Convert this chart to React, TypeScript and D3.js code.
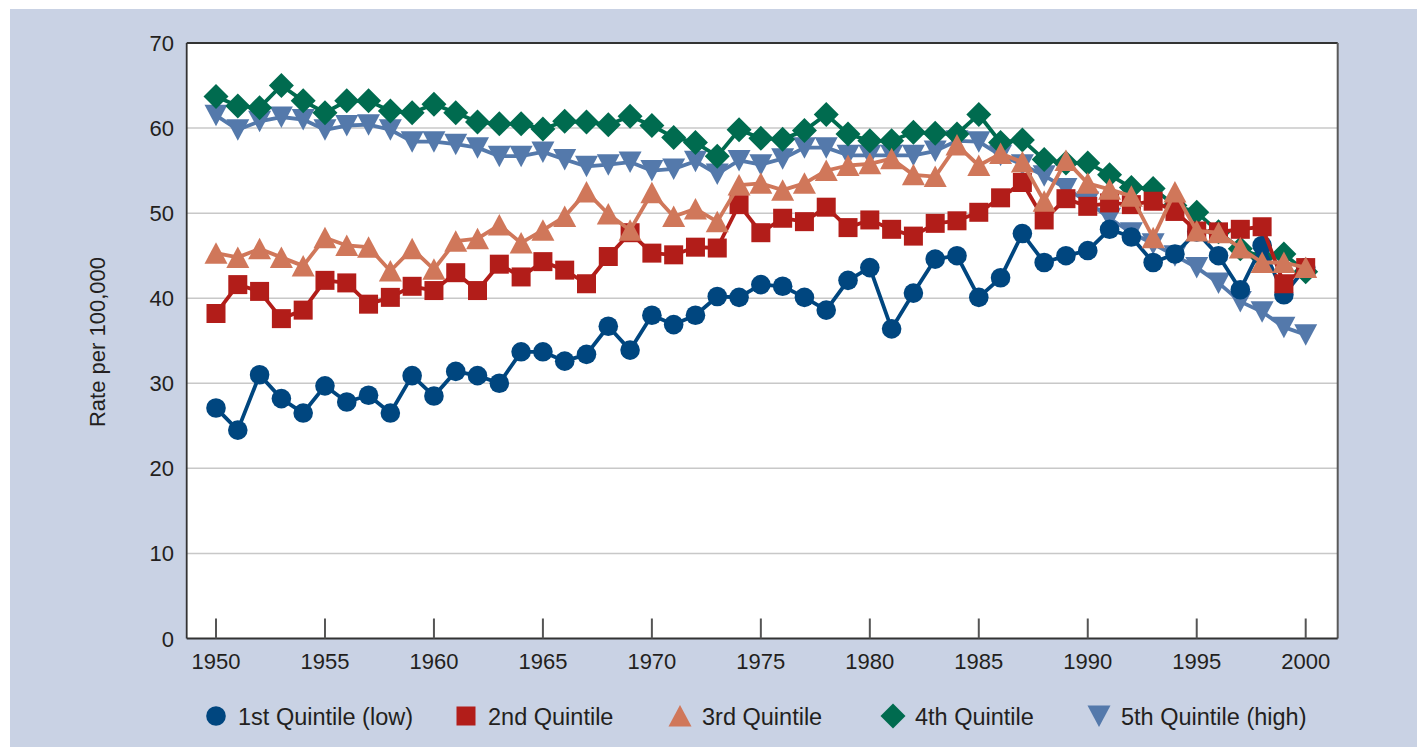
import * as d3 from 'd3';
import React, { useRef, useEffect } from 'react';

// years on the x axis
const years = d3.range(1950, 2001);

// rate per 100,000 for each quintile
const q1 = [27.1, 24.5, 31.0, 28.2, 26.5, 29.7, 27.8, 28.6, 26.5, 30.9,
    28.5, 31.4, 30.9, 30.0, 33.7, 33.7, 32.6, 33.4, 36.7, 33.9,
    38.0, 36.9, 38.0, 40.2, 40.1, 41.6, 41.4, 40.1, 38.6, 42.1,
    43.6, 36.4, 40.6, 44.6, 45.0, 40.1, 42.4, 47.6, 44.2, 45.0,
    45.6, 48.1, 47.2, 44.2, 45.2, 47.8, 45.0, 41.0, 46.2, 40.4, 43.6];

const q2 = [38.2, 41.6, 40.8, 37.6, 38.6, 42.1, 41.8, 39.3, 40.1, 41.4,
    40.9, 43.0, 40.9, 44.0, 42.5, 44.3, 43.3, 41.7, 44.9, 47.7,
    45.3, 45.1, 46.0, 45.9, 51.0, 47.7, 49.4, 49.0, 50.7, 48.3,
    49.2, 48.1, 47.3, 48.8, 49.1, 50.1, 51.8, 53.6, 49.2, 51.7,
    50.8, 51.2, 51.0, 51.4, 50.2, 47.9, 47.8, 48.1, 48.4, 41.7, 43.6];

const q3 = [45.3, 44.8, 45.8, 44.8, 43.8, 47.1, 46.2, 46.0, 43.2, 45.8,
    43.4, 46.7, 47.0, 48.6, 46.5, 48.0, 49.6, 52.5, 49.9, 48.0,
    52.4, 49.6, 50.5, 49.0, 53.3, 53.5, 52.7, 53.5, 55.0, 55.6,
    55.8, 56.4, 54.5, 54.3, 58.0, 55.6, 57.0, 56.0, 51.4, 56.2,
    53.5, 52.8, 52.0, 47.1, 52.5, 47.9, 47.7, 45.9, 44.2, 44.2, 43.6];

const q4 = [63.7, 62.6, 62.4, 65.0, 63.2, 61.8, 63.2, 63.2, 62.0, 61.8,
    62.8, 61.8, 60.7, 60.5, 60.5, 59.9, 60.8, 60.7, 60.4, 61.4,
    60.3, 58.9, 58.3, 56.7, 59.8, 58.8, 58.7, 59.7, 61.6, 59.3,
    58.5, 58.5, 59.5, 59.4, 59.3, 61.6, 58.3, 58.6, 56.3, 55.9,
    55.9, 54.5, 53.0, 52.9, 50.9, 50.1, 47.8, 45.8, 44.8, 45.2, 43.1];

const q5 = [61.5, 59.8, 60.8, 61.3, 61.0, 59.8, 60.3, 60.4, 59.8, 58.4,
    58.4, 58.1, 57.7, 56.7, 56.7, 57.2, 56.3, 55.5, 55.7, 56.0,
    55.0, 55.2, 56.1, 54.6, 56.2, 55.7, 56.4, 57.7, 57.7, 56.8,
    56.8, 56.8, 56.8, 57.3, 58.5, 58.4, 56.8, 55.7, 54.4, 52.9,
    51.3, 49.4, 47.7, 46.4, 45.0, 43.6, 41.8, 39.6, 38.4, 36.6, 35.7];

const seriesNames = ['1st Quintile (low)', '2nd Quintile', '3rd Quintile', '4th Quintile', '5th Quintile (high)'];
const xTicks = [1950, 1955, 1960, 1965, 1970, 1975, 1980, 1985, 1990, 1995, 2000];
const yTicks = [0, 10, 20, 30, 40, 50, 60, 70];

// marker shapes drawn around (0,0)
const markerPath = (shape) => {
    switch (shape) {
        case 'circle': return 'M9.8,0A9.8,9.8 0 1,1 -9.8,0A9.8,9.8 0 1,1 9.8,0Z';
        case 'square': return 'M-9.5,-9.5H9.5V9.5H-9.5Z';
        case 'up': return 'M0,-11L11.5,10.5L-11.5,10.5Z';
        case 'diamond': return 'M0,-12.5L12.5,0L0,12.5L-12.5,0Z';
        case 'down': return 'M-11.5,-10.5L11.5,-10.5L0,11Z';
        default: return '';
    }
};

const series = [
    { name: seriesNames[4], values: q5, color: '#5479ab', shape: 'down' },
    { name: seriesNames[3], values: q4, color: '#006b4f', shape: 'diamond' },
    { name: seriesNames[0], values: q1, color: '#00467f', shape: 'circle' },
    { name: seriesNames[1], values: q2, color: '#b21d19', shape: 'square' },
    { name: seriesNames[2], values: q3, color: '#d0775a', shape: 'up' },
];

const legendOrder = [
    { name: seriesNames[0], color: '#00467f', shape: 'circle', x: 216 },
    { name: seriesNames[1], color: '#b21d19', shape: 'square', x: 466 },
    { name: seriesNames[2], color: '#d0775a', shape: 'up', x: 680 },
    { name: seriesNames[3], color: '#006b4f', shape: 'diamond', x: 893 },
    { name: seriesNames[4], color: '#5479ab', shape: 'down', x: 1099 },
];

const App = () => {
    const svgRef = useRef();

    useEffect(() => {
        const width = 1417;
        const height = 747;
        const left = 186.7;
        const right = 1337.7;

        const svg = d3.select(svgRef.current);
        svg.selectAll('*').remove();
        svg.attr('width', width).attr('height', height);

        const x = d3.scaleLinear().domain([1950, 2000]).range([216, 1305.7]);
        const y = d3.scaleLinear().domain([0, 70]).range([638.5, 43]);

        // light blue panel
        svg.append('rect')
            .attr('x', 10).attr('y', 9)
            .attr('width', width - 10).attr('height', height - 9)
            .attr('fill', '#c9d2e4');

        // white plot area
        svg.append('rect')
            .attr('x', left).attr('y', y(70))
            .attr('width', right - left).attr('height', y(0) - y(70))
            .attr('fill', '#ffffff');

        // gridlines
        svg.append('g')
            .selectAll('line')
            .data(yTicks.filter((d) => d > 0 && d < 70))
            .enter().append('line')
            .attr('x1', left).attr('x2', right)
            .attr('y1', (d) => y(d)).attr('y2', (d) => y(d))
            .attr('stroke', '#c8c8c8')
            .attr('stroke-width', 1.5);

        // frame: top and right
        svg.append('line')
            .attr('x1', left).attr('x2', right)
            .attr('y1', y(70)).attr('y2', y(70))
            .attr('stroke', '#333').attr('stroke-width', 1.8);
        svg.append('line')
            .attr('x1', right).attr('x2', right)
            .attr('y1', y(70)).attr('y2', y(0))
            .attr('stroke', '#5a5a5a').attr('stroke-width', 2);

        // axes
        svg.append('line')
            .attr('x1', left).attr('x2', left)
            .attr('y1', y(70)).attr('y2', y(0))
            .attr('stroke', '#333').attr('stroke-width', 1.8);
        svg.append('line')
            .attr('x1', left).attr('x2', right)
            .attr('y1', y(0)).attr('y2', y(0))
            .attr('stroke', '#333').attr('stroke-width', 1.8);

        // x ticks point up into the plot
        svg.append('g')
            .selectAll('line')
            .data(xTicks)
            .enter().append('line')
            .attr('x1', (d) => x(d)).attr('x2', (d) => x(d))
            .attr('y1', y(0) - 20).attr('y2', y(0))
            .attr('stroke', '#555').attr('stroke-width', 2);

        const font = 'Liberation Sans, Arial, Helvetica, sans-serif';

        svg.append('g')
            .selectAll('text')
            .data(xTicks)
            .enter().append('text')
            .attr('x', (d) => x(d))
            .attr('y', 669)
            .attr('text-anchor', 'middle')
            .attr('font-family', font)
            .attr('font-size', 22)
            .attr('fill', '#231f20')
            .text((d) => d);

        svg.append('g')
            .selectAll('text')
            .data(yTicks)
            .enter().append('text')
            .attr('x', 174)
            .attr('y', (d) => y(d) + 8)
            .attr('text-anchor', 'end')
            .attr('font-family', font)
            .attr('font-size', 22)
            .attr('fill', '#231f20')
            .text((d) => d);

        svg.append('text')
            .attr('transform', 'translate(105, 342) rotate(-90)')
            .attr('text-anchor', 'middle')
            .attr('font-family', font)
            .attr('font-size', 22)
            .attr('fill', '#231f20')
            .text('Rate per 100,000');

        // lines and markers
        const line = d3.line()
            .x((d, i) => x(years[i]))
            .y((d) => y(d));

        const groups = svg.append('g')
            .selectAll('g')
            .data(series)
            .enter().append('g');

        groups.append('path')
            .attr('d', (d) => line(d.values))
            .attr('fill', 'none')
            .attr('stroke', (d) => d.color)
            .attr('stroke-width', 3.8)
            .attr('stroke-linejoin', 'round');

        groups.each(function (s) {
            d3.select(this)
                .selectAll('path.marker')
                .data(s.values)
                .enter().append('path')
                .attr('class', 'marker')
                .attr('transform', (d, i) => `translate(${x(years[i])},${y(d)})`)
                .attr('d', markerPath(s.shape))
                .attr('fill', s.color);
        });

        // legend
        const legend = svg.append('g')
            .selectAll('g')
            .data(legendOrder)
            .enter().append('g')
            .attr('transform', (d) => `translate(${d.x},716)`);

        legend.append('path')
            .attr('d', (d) => markerPath(d.shape))
            .attr('fill', (d) => d.color);

        legend.append('text')
            .attr('x', 22)
            .attr('y', 8.5)
            .attr('font-family', font)
            .attr('font-size', 23.5)
            .attr('fill', '#231f20')
            .text((d) => d.name);
    }, []);

    return (
        <svg ref={svgRef} style={{ position: 'absolute', left: 0, top: 0, display: 'block' }}></svg>
    );
};

export default App;
